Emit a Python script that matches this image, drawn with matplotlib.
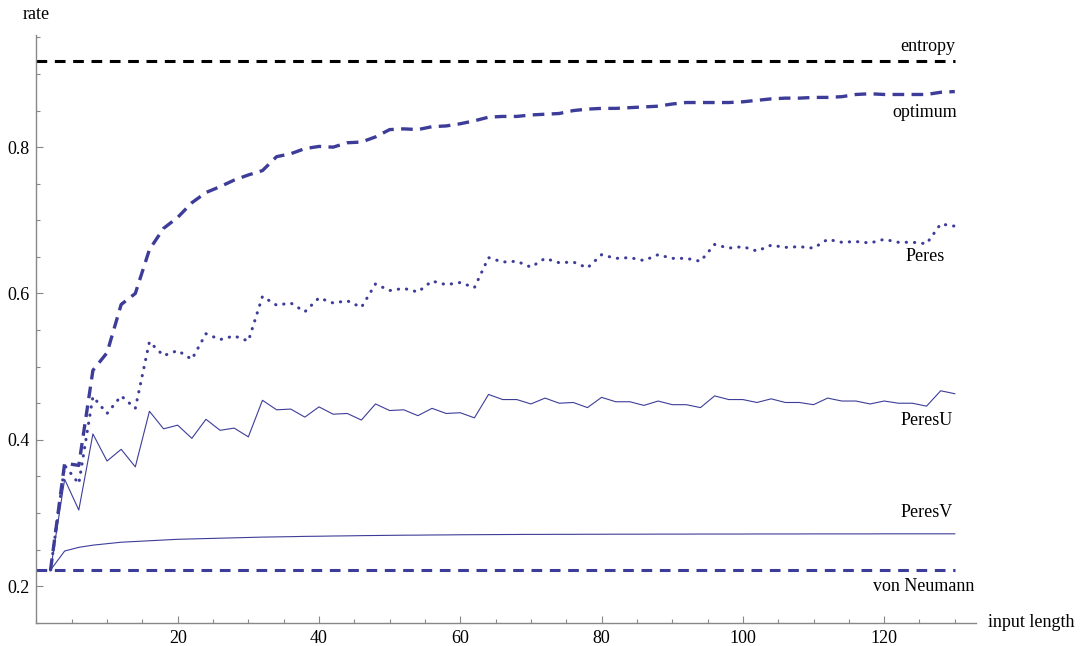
import matplotlib
matplotlib.use("Agg")
import matplotlib.pyplot as plt
from matplotlib.ticker import MultipleLocator

# input lengths (even n)
lengths = list(range(2, 131, 2))

entropy = 0.918
von_neumann = 0.222

optimum = [
    0.222, 0.368, 0.365, 0.495, 0.519, 0.585, 0.600, 0.660,
    0.689, 0.704, 0.724, 0.738, 0.746, 0.755, 0.762, 0.768,
    0.787, 0.791, 0.798, 0.801, 0.800, 0.806, 0.807, 0.814,
    0.824, 0.825, 0.824, 0.828, 0.829, 0.832, 0.836, 0.841,
    0.842, 0.842, 0.844, 0.845, 0.846, 0.850, 0.852, 0.853,
    0.853, 0.854, 0.855, 0.856, 0.859, 0.861, 0.861, 0.861,
    0.861, 0.862, 0.864, 0.866, 0.867, 0.867, 0.868, 0.868,
    0.869, 0.872, 0.873, 0.872, 0.872, 0.872, 0.872, 0.875,
    0.876,
]

peres = [
    0.222, 0.365, 0.340, 0.459, 0.436, 0.460, 0.443, 0.534,
    0.515, 0.522, 0.510, 0.545, 0.537, 0.542, 0.535, 0.596,
    0.584, 0.587, 0.575, 0.594, 0.587, 0.590, 0.581, 0.613,
    0.604, 0.607, 0.602, 0.617, 0.612, 0.615, 0.608, 0.649,
    0.643, 0.644, 0.636, 0.648, 0.642, 0.643, 0.635, 0.653,
    0.648, 0.649, 0.645, 0.653, 0.648, 0.648, 0.644, 0.667,
    0.662, 0.664, 0.658, 0.666, 0.663, 0.664, 0.662, 0.674,
    0.670, 0.671, 0.669, 0.674, 0.670, 0.670, 0.668, 0.695,
    0.692,
]

peres_u = [
    0.222, 0.346, 0.304, 0.408, 0.371, 0.387, 0.363, 0.439,
    0.415, 0.420, 0.402, 0.428, 0.413, 0.416, 0.404, 0.454,
    0.441, 0.442, 0.431, 0.445, 0.435, 0.436, 0.427, 0.449,
    0.440, 0.441, 0.433, 0.443, 0.436, 0.437, 0.430, 0.462,
    0.455, 0.455, 0.449, 0.457, 0.450, 0.451, 0.444, 0.458,
    0.452, 0.452, 0.447, 0.453, 0.448, 0.448, 0.444, 0.460,
    0.455, 0.455, 0.451, 0.456, 0.451, 0.451, 0.448, 0.457,
    0.453, 0.453, 0.449, 0.453, 0.450, 0.450, 0.446, 0.467,
    0.463,
]

peres_v = [
    0.222, 0.248, 0.253, 0.256, 0.258, 0.260, 0.261, 0.262,
    0.263, 0.264, 0.2645, 0.265, 0.2655, 0.266, 0.2665, 0.267,
    0.2673, 0.2676, 0.268, 0.2682, 0.2685, 0.2687, 0.269, 0.2692,
    0.2694, 0.2696, 0.2697, 0.2699, 0.270, 0.2702, 0.2703, 0.2704,
    0.2705, 0.2706, 0.2707, 0.2707, 0.2708, 0.2708, 0.2709, 0.2709,
    0.271, 0.271, 0.271, 0.2711, 0.2711, 0.2711, 0.2712, 0.2712,
    0.2712, 0.2712, 0.2713, 0.2713, 0.2713, 0.2713, 0.2714, 0.2714,
    0.2714, 0.2714, 0.2714, 0.2715, 0.2715, 0.2715, 0.2715, 0.2715,
    0.2715,
]

blue = "#3d3d99"
font = "Liberation Serif"
plt.rcParams["font.family"] = font

fig = plt.figure(figsize=(10.84, 6.46), dpi=100)
ax = fig.add_axes([36.4 / 1084, 1 - 622.7 / 646, (976 - 36.4) / 1084, (622.7 - 35) / 646])

ax.hlines(entropy, 0, lengths[-1], colors="black", linestyles=(0, (3.5, 2.5)), lw=2.2)
ax.hlines(von_neumann, 0, lengths[-1], colors=blue, linestyles=(0, (3.5, 2.5)), lw=2.2)
ax.plot(lengths, optimum, color=blue, lw=2.4, linestyle=(0, (3.5, 2.2)))
ax.plot(lengths, peres, color=blue, lw=2.2, linestyle=(0, (0.1, 2.6)), dash_capstyle="round")
ax.plot(lengths, peres_u, color=blue, lw=0.8)
ax.plot(lengths, peres_v, color=blue, lw=0.8)

ax.set_xlim(0, 133)
ax.set_ylim(0.15, 0.9533)

for s in ("top", "right"):
    ax.spines[s].set_visible(False)
for s in ("left", "bottom"):
    ax.spines[s].set_color("#888888")
    ax.spines[s].set_linewidth(1.0)

ax.set_xticks([20, 40, 60, 80, 100, 120])
ax.set_yticks([0.2, 0.4, 0.6, 0.8])
ax.set_yticklabels(["0.2", "0.4", "0.6", "0.8"])
ax.xaxis.set_minor_locator(MultipleLocator(5))
ax.yaxis.set_minor_locator(MultipleLocator(0.05))
ax.tick_params(which="major", direction="in", length=5, width=0.8, color="#888888",
               labelsize=13, pad=5)
ax.tick_params(which="minor", direction="in", length=3, width=0.8, color="#888888")

fs = 13
ax.text(130.0, 0.938, "entropy", ha="right", va="center", fontsize=fs)
ax.text(130.3, 0.848, "optimum", ha="right", va="center", fontsize=fs)
ax.text(128.6, 0.650, "Peres", ha="right", va="center", fontsize=fs)
ax.text(129.7, 0.427, "PeresU", ha="right", va="center", fontsize=fs)
ax.text(129.7, 0.300, "PeresV", ha="right", va="center", fontsize=fs)
ax.text(132.7, 0.200, "von Neumann", ha="right", va="center", fontsize=fs)
ax.text(134.7, 0.15, "input length", ha="left", va="center", fontsize=fs, clip_on=False)
ax.text(0, 0.981, "rate", ha="center", va="center", fontsize=fs, clip_on=False)

fig.savefig("out.png", dpi=100)
